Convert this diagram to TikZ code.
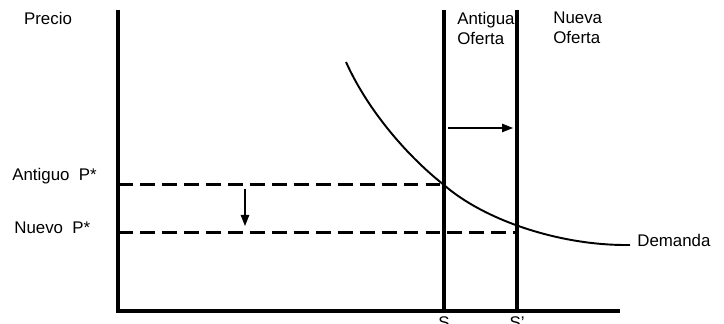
\documentclass[tikz,border=0pt]{standalone}
\usepackage{fontspec}
\setmainfont{Liberation Sans}
\usepackage{xcolor}
\usetikzlibrary{arrows.meta,positioning}

\begin{document}
\begin{tikzpicture}[
  axis/.style={line width=2.3pt,color=black},
  supply/.style={line width=2.3pt,color=black},
  price/.style={line width=1.7pt,dash pattern=on 8.5pt off 4pt},
  demand/.style={line width=1.1pt},
  move/.style={-{Triangle[length=2.2mm,width=1.7mm]},line width=0.6pt},
  lbl/.style={font=\fontsize{9.6}{11.3}\selectfont,inner sep=0pt,align=left}
]
\useasboundingbox (0,0) rectangle (14.48,6.48);
% axes
\coordinate (o) at (2.36,0.26);
\coordinate (ytop) at (2.36,6.28);
\coordinate (xend) at (12.4,0.26);
\draw[axis] (ytop)--(o)--(xend);
% supply curves
\coordinate (s1top) at (8.88,6.28);
\coordinate (s1bot) at (8.88,0.26);
\coordinate (s2top) at (10.34,6.28);
\coordinate (s2bot) at (10.34,0.26);
\draw[supply] (s1top)--(s1bot);
\draw[supply] (s2top)--(s2bot);
% equilibrium prices
\coordinate (p1) at (2.36,2.78);
\coordinate (e1) at (8.88,2.78);
\coordinate (p2) at (2.36,1.82);
\coordinate (e2) at (10.34,1.82);
\draw[price] (p1)--(e1);
\draw[price] (p2)--(e2);
% demand
\coordinate (d0) at (6.92,5.24);
\coordinate (d1) at (12.6,1.58);
\draw[demand] (d0) .. controls (7.37,4.24) and (8.18,3.33) .. (e1)
  .. controls (9.68,2.08) and (11.2,1.56) .. (d1);
% shifts
\coordinate (a1) at (4.9,2.7);
\coordinate (a2) at (4.9,1.96);
\draw[move] (a1)--(a2);
\coordinate (b1) at (8.96,3.92);
\coordinate (b2) at (10.26,3.92);
\draw[move] (b1)--(b2);
% labels
\node[lbl] (precio) at (0.96,6.12) {Precio};
\node[lbl,anchor=north west] (antigua) at (9.14,6.24) {Antigua\\Oferta};
\node[lbl,anchor=north west] (nueva) at (11.06,6.24) {Nueva\\Oferta};
\node[lbl,anchor=west] (antiguo) at (0.24,2.96) {Antiguo\ \ P*};
\node[lbl,anchor=west] (nuevo) at (0.28,1.92) {Nuevo\ \ P*};
\node[lbl,anchor=west] (dem) at (12.74,1.68) {Demanda};
\node[lbl,anchor=north] (s) at (s1bot) [yshift=-0.1cm] {S};
\node[lbl,anchor=north] (sp) at (s2bot) [yshift=-0.1cm] {S'};
\end{tikzpicture}
\end{document}
